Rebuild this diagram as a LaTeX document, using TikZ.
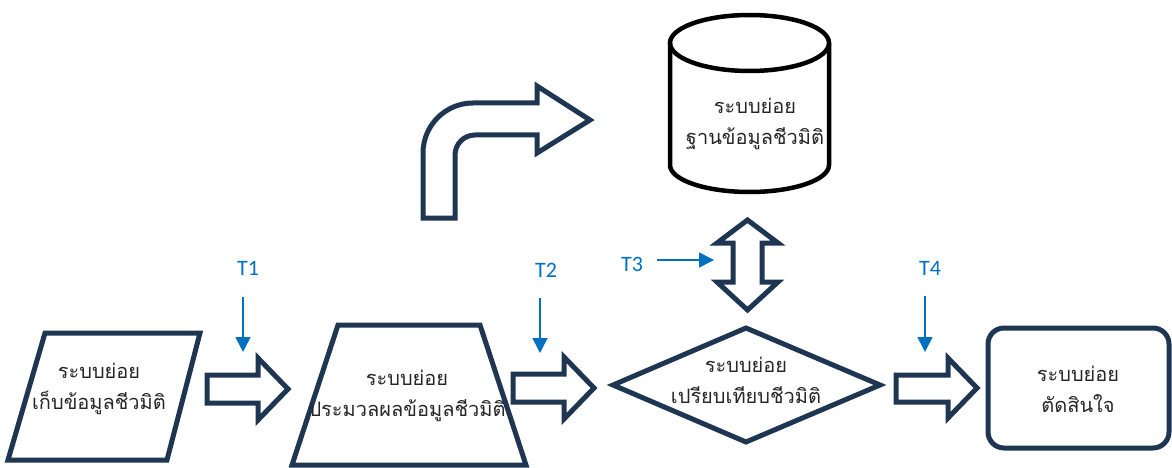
\documentclass[tikz,border=0pt]{standalone}
\usepackage{fontspec}
\newfontfamily\thaifont[Script=Thai]{Loma}
\newfontfamily\lblfont{Carlito}
\definecolor{navy}{RGB}{31,54,82}
\definecolor{tblue}{RGB}{0,112,192}
\tikzset{
  shapeline/.style={draw=navy, line width=5pt, line join=miter},
  blockarrow/.style={draw=navy, line width=5pt, line join=miter},
  thaitext/.style={font=\thaifont\fontsize{20}{31}\selectfont, text=black!85, align=center},
  tlabel/.style={font=\lblfont\fontsize{22}{24}\selectfont, text=tblue},
  tarrow/.style={draw=tblue, line width=1.6pt, -{Triangle[length=15pt,width=15pt]}}
}
\usetikzlibrary{arrows.meta}
\begin{document}
\begin{tikzpicture}[x=1pt,y=-1pt]
\useasboundingbox (0,0) rectangle (1172,468);
% parallelogram
\draw[shapeline] (45,333) -- (200,333) -- (167,460) -- (8,460) -- cycle;
\node[thaitext] (n1) at (99,389) {ระบบย่อย\\เก็บข้อมูลชีวมิติ};
% arrow 1
\draw[blockarrow] (207,375) -- (258,375) -- (258,358) -- (288,389) -- (258,420) -- (258,403) -- (207,403) -- cycle;
% trapezoid
\draw[shapeline] (338,325) -- (480,325) -- (526,465) -- (292,465) -- cycle;
\node[thaitext] (n2) at (407,396) {ระบบย่อย\\ประมวลผลข้อมูลชีวมิติ};
% arrow 2
\draw[blockarrow] (513,374) -- (564,374) -- (564,357) -- (594,388) -- (564,419) -- (564,402) -- (513,402) -- cycle;
% diamond
\draw[shapeline] (746,328) -- (880,385) -- (746,442) -- (613,385) -- cycle;
\node[thaitext] (n3) at (746,380) {ระบบย่อย\\เปรียบเทียบชีวมิติ};
% arrow 3
\draw[blockarrow] (896,375) -- (948,375) -- (948,358) -- (977,388) -- (948,418) -- (948,402) -- (896,402) -- cycle;
% rounded rect
\draw[shapeline, rounded corners=16pt] (988,328) rectangle (1169,448);
\node[thaitext] (n4) at (1078,389) {ระบบย่อย\\ตัดสินใจ};
% cylinder
\draw[draw=black, line width=4.5pt] (670,43) -- (670,165) arc[start angle=180,end angle=360,x radius=79.5pt,y radius=27pt] -- (829,43);
\draw[draw=black, line width=4.5pt] (749.5,43) ellipse[x radius=79.5pt, y radius=28pt];
\node[thaitext] (n5) at (755,124) {ระบบย่อย\\ฐานข้อมูลชีวมิติ};
% double arrow
\draw[blockarrow] (747.5,220) -- (778,243) -- (762,243) -- (762,282) -- (778,282) -- (747.5,310) -- (717,282) -- (733,282) -- (733,243) -- (717,243) -- cycle;
% bent arrow
\draw[blockarrow] (423,218) -- (423,153) arc[start angle=180,end angle=90,radius=50pt] -- (537,103) -- (537,86) -- (590,120) -- (537,153) -- (537,135) -- (475,135) arc[start angle=90,end angle=180,radius=20pt] -- (455,218) -- cycle;
% T labels
\node[tlabel] (t1) at (248,268) {T1};
\coordinate (t1e) at (243,352);
\draw[tarrow] (243,297) -- (t1e);
\node[tlabel] (t2) at (546,270) {T2};
\coordinate (t2e) at (540,353);
\draw[tarrow] (540,298) -- (t2e);
\node[tlabel] (t3) at (632,264) {T3};
\coordinate (t3e) at (714,260);
\draw[tarrow] (657,260) -- (t3e);
\node[tlabel] (t4) at (930,268) {T4};
\coordinate (t4e) at (925,352);
\draw[tarrow] (925,296) -- (t4e);
\end{tikzpicture}
\end{document}
